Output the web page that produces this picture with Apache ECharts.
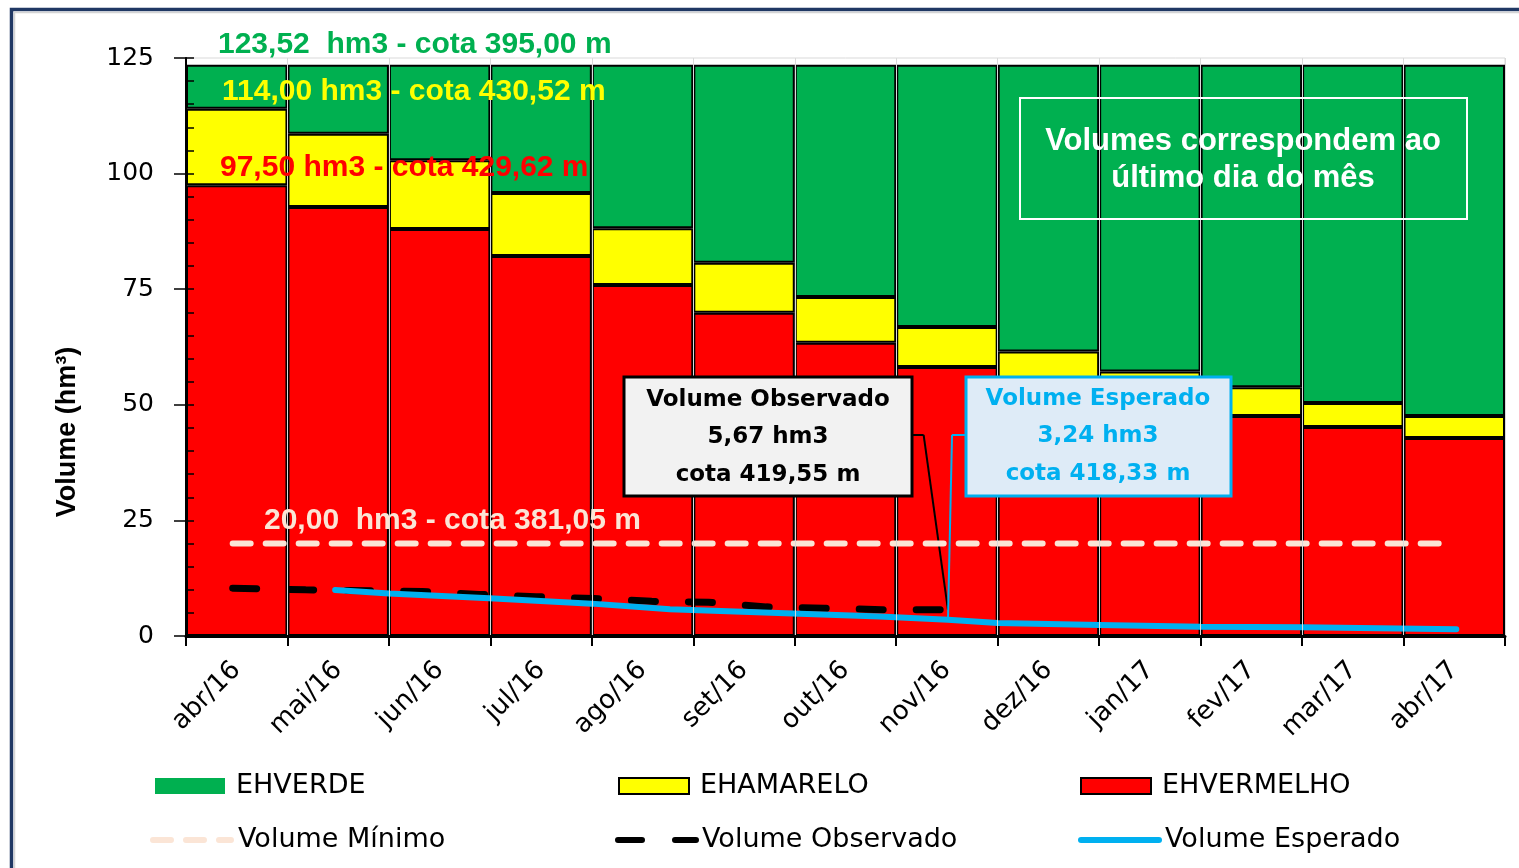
<!DOCTYPE html>
<html>
<head>
<meta charset="utf-8">
<script src="https://cdn.jsdelivr.net/npm/echarts@6/dist/echarts.min.js"></script>
<style>
  html, body { margin: 0; padding: 0; background: #fff; }
  #chart { width: 1519px; height: 868px; }
</style>
</head>
<body>
<div id="chart"></div>
<script>
// months (category axis)
var meses = ['abr/16', 'mai/16', 'jun/16', 'jul/16', 'ago/16', 'set/16', 'out/16',
             'nov/16', 'dez/16', 'jan/17', 'fev/17', 'mar/17', 'abr/17'];

// top of each colour band, hm3
var topoVermelho = [97.5, 92.8, 88.0, 82.2, 75.9, 69.9, 63.4, 58.2, 54.0, 50.6, 47.6, 45.2, 42.8];
var topoAmarelo  = [114.0, 108.6, 102.9, 95.8, 88.2, 80.7, 73.3, 66.8, 61.5, 57.2, 53.8, 50.4, 47.6];
var topoVerde = 123.52;

// lines: x in months from the start of abr/16
var minimoX = [0.46, 12.37];
var minimoVol = [20, 20];
var observadoX   = [0.46, 1.18, 2.33, 2.89, 3.45, 4.02, 4.59, 5.15, 5.72, 6.29, 6.86, 7.51];
var observadoVol = [10.35, 10.0, 9.6, 9.0, 8.5, 8.1, 7.5, 7.3, 6.3, 6.0, 5.7, 5.67];
var esperadoX   = [1.47, 2.0, 2.99, 4.0, 4.77, 6.05, 6.84, 7.51, 8.0, 9.0, 10.0, 11.0, 12.52];
var esperadoVol = [9.95, 9.2, 8.15, 7.0, 5.8, 4.8, 4.2, 3.5, 2.8, 2.4, 2.0, 1.9, 1.45];

var yTickLabels = ['0', '25', '50', '75', '100', '125'];

function pares(xs, ys) {
    var out = [];
    for (var i = 0; i < xs.length; i++) out.push([xs[i], ys[i]]);
    return out;
}

var vermelho = topoVermelho.slice();
var amarelo = topoAmarelo.map(function (v, i) { return +(v - topoVermelho[i]).toFixed(2); });
var verde = topoAmarelo.map(function (v) { return +(topoVerde - v).toFixed(2); });

var chart = echarts.init(document.getElementById('chart'));

var fonteEixo = 'DejaVu Sans, sans-serif';
var fonteAnot = 'Liberation Sans, Arial, sans-serif';

function legenda(nome, left, top, w, h, opts) {
    var item = { name: nome };
    if (opts.itemStyle) item.itemStyle = opts.itemStyle;
    return {
        data: [item],
        left: left, top: top,
        padding: 0,
        icon: opts.icon,
        itemWidth: w, itemHeight: h,
        selectedMode: false,
        textStyle: { fontFamily: fonteEixo, fontSize: 27, color: '#000', lineHeight: 30, padding: [0, 0, 0, opts.pad] },
        lineStyle: { width: 6, type: 'inherit', cap: 'round' }
    };
}

function caixaTexto(cx, ys, linhas, font, color) {
    return linhas.map(function (t, i) {
        return {
            type: 'text', z: 101,
            style: { x: cx, y: ys[i], text: t, font: font, fill: color, textAlign: 'center', textVerticalAlign: 'middle' }
        };
    });
}

var graficos = [
    // frame of the original slide
    { type: 'rect', z: 100, shape: { x: 11.5, y: 9.5, width: 1600, height: 1000 },
      style: { fill: 'none', stroke: '#203864', lineWidth: 3.5 } },
    { type: 'rect', z: 100, shape: { x: 14.5, y: 12.5, width: 1600, height: 1000 },
      style: { fill: 'none', stroke: '#d4d4d4', lineWidth: 1.5 } },
    // y axis title
    { type: 'text', z: 101, x: 68, y: 432, rotation: Math.PI / 2,
      style: { x: 0, y: 0, text: 'Volume (hm³)', font: 'bold 27px ' + fonteAnot, fill: '#000', textAlign: 'center', textVerticalAlign: 'middle' } },
    // level annotations
    { type: 'text', z: 101, style: { x: 218, y: 45, text: '123,52  hm3 - cota 395,00 m', font: 'bold 30px ' + fonteAnot, fill: '#00B050', textVerticalAlign: 'middle' } },
    { type: 'text', z: 101, style: { x: 222, y: 92, text: '114,00 hm3 - cota 430,52 m', font: 'bold 30px ' + fonteAnot, fill: '#FFFF00', textVerticalAlign: 'middle' } },
    { type: 'text', z: 101, style: { x: 220, y: 168, text: '97,50 hm3 - cota 429,62 m', font: 'bold 30px ' + fonteAnot, fill: '#FF0000', textVerticalAlign: 'middle' } },
    { type: 'text', z: 101, style: { x: 264, y: 521, text: '20,00  hm3 - cota 381,05 m', font: 'bold 30px ' + fonteAnot, fill: '#FBE5D6', textVerticalAlign: 'middle' } },
    // note box
    { type: 'rect', z: 100, shape: { x: 1020, y: 98, width: 447, height: 121 },
      style: { fill: 'none', stroke: '#fff', lineWidth: 2 } },
    // observed box
    { type: 'rect', z: 100, shape: { x: 624, y: 377, width: 288, height: 119 },
      style: { fill: '#F2F2F2', stroke: '#000', lineWidth: 3 } },
    // expected box
    { type: 'rect', z: 100, shape: { x: 966, y: 377, width: 265, height: 119 },
      style: { fill: '#DEEBF7', stroke: '#00B0F0', lineWidth: 3 } }
];
graficos = graficos
    .concat(caixaTexto(1243, [141, 178], ['Volumes correspondem ao', 'último dia do mês'], 'bold 31px ' + fonteAnot, '#fff'))
    .concat(caixaTexto(768, [400, 437, 475], ['Volume Observado', '5,67 hm3', 'cota 419,55 m'], 'bold 23px ' + fonteEixo, '#000'))
    .concat(caixaTexto(1098, [399, 436, 474], ['Volume Esperado', '3,24 hm3', 'cota 418,33 m'], 'bold 23px ' + fonteEixo, '#00B0F0'));

var barStyle = function (cor) {
    return { color: cor, borderColor: '#000', borderWidth: 2 };
};

var option = {
    backgroundColor: '#fff',
    animation: false,
    grid: { left: 186, right: 14, top: 58, bottom: 232, show: true, borderColor: '#d9d9d9', borderWidth: 1 },
    xAxis: [{
        type: 'category',
        data: meses,
        z: 10,
        axisLine: { lineStyle: { color: '#000', width: 3 } },
        axisTick: { show: true, length: 10, lineStyle: { color: '#000', width: 2 } },
        splitLine: { show: true, lineStyle: { color: '#d9d9d9', width: 1 } },
        axisLabel: { rotate: 45, margin: 30, fontFamily: fonteEixo, fontSize: 26, color: '#000' }
    }, {
        type: 'value', min: 0, max: 13, show: false
    }],
    yAxis: [{
        type: 'value', min: 0, max: 125, interval: 25,
        z: 10,
        axisLine: { show: true, lineStyle: { color: '#000', width: 2 } },
        axisTick: { show: true, length: 12, lineStyle: { color: '#000', width: 1.5 } },
        splitLine: { show: false },
        axisLabel: {
            margin: 32, fontFamily: fonteEixo, fontSize: 25, color: '#000',
            formatter: function (v) { return yTickLabels[v / 25]; }
        }
    }, {
        type: 'value', min: 0, max: 125, interval: 5,
        position: 'left', z: 10,
        axisLine: { show: false },
        axisTick: { show: true, inside: true, length: 8, lineStyle: { color: '#000', width: 1.5 } },
        axisLabel: { show: false },
        splitLine: { show: false }
    }],
    legend: [
        legenda('EHVERDE', 155, 771, 70, 16, { icon: 'rect', pad: 6, itemStyle: { borderWidth: 0 } }),
        legenda('EHAMARELO', 618, 771, 70, 16, { icon: 'rect', pad: 6 }),
        legenda('EHVERMELHO', 1080, 771, 70, 16, { icon: 'rect', pad: 6 }),
        legenda('Volume Mínimo', 150, 825, 78, 12, { pad: 2, itemStyle: { opacity: 0 } }),
        legenda('Volume Observado', 615, 825, 78, 12, { pad: 1, itemStyle: { opacity: 0 } }),
        legenda('Volume Esperado', 1078, 825, 78, 12, { pad: 1, itemStyle: { opacity: 0 } })
    ],
    graphic: graficos,
    series: [
        { name: 'EHVERMELHO', type: 'bar', stack: 'v', barCategoryGap: '0%', data: vermelho, itemStyle: barStyle('#FF0000') },
        { name: 'EHAMARELO', type: 'bar', stack: 'v', barCategoryGap: '0%', data: amarelo, itemStyle: barStyle('#FFFF00') },
        { name: 'EHVERDE', type: 'bar', stack: 'v', barCategoryGap: '0%', data: verde, itemStyle: barStyle('#00B050') },
        {
            name: 'Volume Mínimo', type: 'line', xAxisIndex: 1, yAxisIndex: 0,
            data: pares(minimoX, minimoVol), symbol: 'none', z: 5,
            itemStyle: { color: '#FBE5D6' },
            lineStyle: { color: '#FBE5D6', width: 6, type: [18, 15], cap: 'round' }
        },
        {
            name: 'Volume Observado', type: 'line', xAxisIndex: 1, yAxisIndex: 0,
            data: pares(observadoX, observadoVol), symbol: 'none', z: 6,
            itemStyle: { color: '#000' },
            lineStyle: { color: '#000', width: 7, type: [24, 33], cap: 'round' },
            markLine: {
                silent: true, symbol: 'none', label: { show: false },
                lineStyle: { color: '#000', width: 2, type: 'solid' },
                data: [
                    [{ coord: [7.16, 43.5] }, { coord: [7.27, 43.5] }],
                    [{ coord: [7.27, 43.5] }, { coord: [7.51, 5.67] }]
                ]
            }
        },
        {
            name: 'Volume Esperado', type: 'line', xAxisIndex: 1, yAxisIndex: 0,
            data: pares(esperadoX, esperadoVol), symbol: 'none', z: 7,
            itemStyle: { color: '#00B0F0' },
            lineStyle: { color: '#00B0F0', width: 6, cap: 'round' },
            markLine: {
                silent: true, symbol: 'none', label: { show: false },
                lineStyle: { color: '#00B0F0', width: 2, type: 'solid' },
                data: [
                    [{ coord: [7.68, 43.5] }, { coord: [7.55, 43.5] }],
                    [{ coord: [7.55, 43.5] }, { coord: [7.51, 3.5] }]
                ]
            }
        }
    ]
};

chart.setOption(option);
</script>
</body>
</html>
